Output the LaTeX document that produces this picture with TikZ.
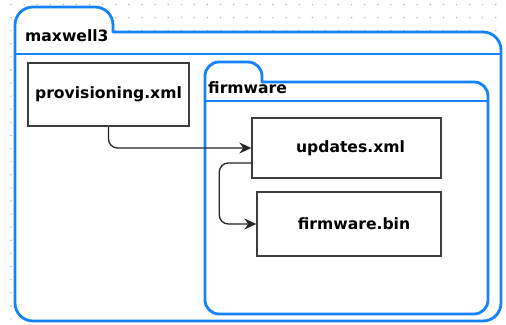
\documentclass[tikz,border=0pt]{standalone}
\usepackage{fontspec}
\setmainfont{DejaVu Sans}
\usetikzlibrary{arrows.meta}

\definecolor{folderblue}{RGB}{20,130,250}
\definecolor{boxline}{RGB}{60,60,60}
\definecolor{griddot}{RGB}{180,180,180}

\tikzset{
  labelfont/.style={font=\fontsize{15.6}{18}\selectfont\bfseries},
  folder/.style={draw=folderblue, line width=2.8pt, fill=white, line join=round},
  divider/.style={draw=folderblue, line width=2.8pt},
  filebox/.style={draw=boxline, line width=1.4pt, fill=white, labelfont,
    inner sep=0pt, text=black},
  foldername/.style={labelfont, anchor=west, inner sep=0pt, text=black},
  conn/.style={draw=black!85, line width=1.3pt, rounded corners=9pt,
    -{Stealth[length=12pt, width=11pt, inset=4pt]}},
}

\begin{document}
\begin{tikzpicture}[x=1pt, y=1pt]
  \useasboundingbox (0,0) rectangle (506,324);

  % dotted background grid
  \foreach \i in {0,...,37} {
    \foreach \j in {0,...,24} {
      \fill[griddot] (11+13.1*\i, 319.5-13.1*\j) circle[radius=0.8];
    }
  }

  % outer folder: maxwell3
  \draw[folder] (15,21) -- (15,299) arc[start angle=180, end angle=90, radius=18]
    -- (95,317) arc[start angle=90, end angle=0, radius=18]
    -- (113,292) -- (483,292) arc[start angle=90, end angle=0, radius=18]
    -- (501,21) arc[start angle=0, end angle=-90, radius=18]
    -- (33,3) arc[start angle=270, end angle=180, radius=18] -- cycle;
  \draw[divider] (15,270) -- (501,270);
  \node[foldername] (outername) at (25,288) {maxwell3};

  % inner folder: firmware
  \draw[folder] (205,24) -- (205,248) arc[start angle=180, end angle=90, radius=14]
    -- (248,262) arc[start angle=90, end angle=0, radius=14]
    -- (262,242) -- (474,242) arc[start angle=90, end angle=0, radius=14]
    -- (488,24) arc[start angle=0, end angle=-90, radius=14]
    -- (219,10) arc[start angle=270, end angle=180, radius=14] -- cycle;
  \draw[divider] (205,223) -- (488,223);
  \node[foldername] (innername) at (208,236) {firmware};

  % files
  \node[filebox, minimum width=161pt, minimum height=63pt] (prov) at (108.5,229.5)
    {provisioning.xml};
  \node[filebox, minimum width=189pt, minimum height=60pt] (upd) at (346.5,176)
    {\hspace*{8pt}updates.xml};
  \node[filebox, minimum width=184pt, minimum height=64pt] (fwbin) at (349,100)
    {\hspace*{10pt}firmware.bin};

  % connectors
  \draw[conn] (prov.south) |- (upd.west);
  \draw[conn] ([yshift=-15pt]upd.west) -- ++(-32,0) |- (fwbin.west);
\end{tikzpicture}
\end{document}
